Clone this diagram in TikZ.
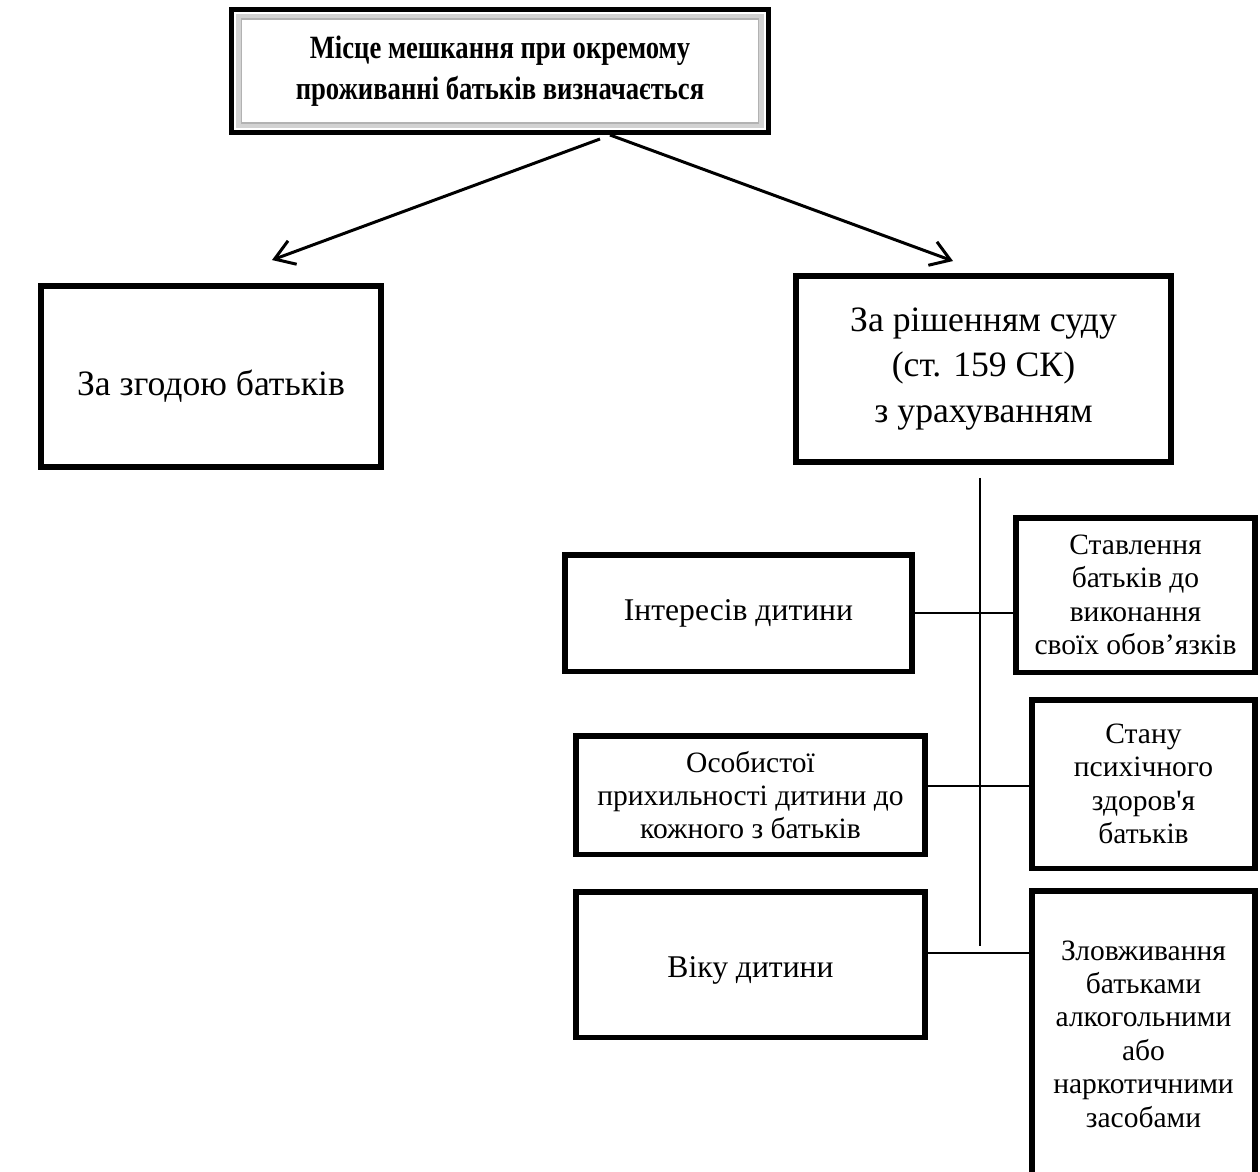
\documentclass[tikz,border=0pt]{standalone}
\usepackage{fontspec}
\setmainfont{Liberation Serif}
\newfontfamily\headfont[FakeStretch=0.82]{Liberation Serif}
\usepackage{tikz}
\usetikzlibrary{arrows.meta,calc}

\begin{document}
\begin{tikzpicture}[
  x=0.02cm,y=-0.02cm,
  box/.style={draw,line width=0.11cm,align=center,inner sep=0pt},
  bigtext/.style={font=\fontsize{20.3}{26}\selectfont},
  midtext/.style={font=\fontsize{18}{20}\selectfont},
  smalltext/.style={font=\fontsize{16.8}{19}\selectfont},
  link/.style={line width=1.1pt},
  pointer/.style={line width=1.7pt,-{Straight Barb[length=0.38cm,width=0.5cm,line width=1.7pt]}}
]
\useasboundingbox (0,0) rectangle (1260,1171);

% heading
\node[box,line width=0.1cm,minimum width=10.74cm,minimum height=2.46cm,
      font=\headfont\fontsize{18.5}{23}\selectfont\bfseries] (top) at (500,71)
  {Місце мешкання при окремому\\проживанні батьків визначається};
\draw[gray!35,line width=0.1cm] ([shift={(9,9)}]top.north west) rectangle ([shift={(-9,-9)}]top.south east);
\draw[gray!60,line width=0.6pt] ([shift={(12,12)}]top.north west) rectangle ([shift={(-12,-12)}]top.south east);

% two ways
\node[box,bigtext,minimum width=6.81cm,minimum height=3.63cm] (agree) at (211,376.5)
  {\raisebox{-0.37cm}[0pt][0pt]{За згодою батьків}};
\node[box,bigtext,minimum width=7.51cm,minimum height=3.73cm] (court) at (983.5,369)
  {За рішенням суду\\(ст. 159 СК)\\з урахуванням};

\draw[pointer] ([xshift=2cm,yshift=-0.08cm]top.south) -- ([xshift=1.22cm,yshift=0.46cm]agree.north);
\draw[pointer] ([xshift=2.2cm]top.south) -- ([xshift=-0.61cm,yshift=0.24cm]court.north);

% circumstances
\node[box,midtext,minimum width=6.95cm,minimum height=2.33cm] (interests) at (738.5,613) {Інтересів дитини};
\node[box,smalltext,minimum width=4.79cm,minimum height=3.09cm] (attitude) at (1135.5,595)
  {Ставлення\\батьків до\\виконання\\своїх обов’язків};
\node[box,smalltext,minimum width=6.99cm,minimum height=2.37cm] (affection) at (750.5,795)
  {Особистої\\прихильності дитини до\\кожного з батьків};
\node[box,smalltext,minimum width=4.47cm,minimum height=3.37cm] (health) at (1143.5,784)
  {Стану\\психічного\\здоров\textquotesingle я\\батьків};
\node[box,midtext,minimum width=6.99cm,minimum height=2.91cm] (age) at (750.5,964.5)
  {\raisebox{-0.25cm}[0pt][0pt]{Віку дитини}};
\node[box,smalltext,minimum width=4.47cm,minimum height=5.73cm] (abuse) at (1143.5,1034)
  {Зловживання\\батьками\\алкогольними\\або\\наркотичними\\засобами};

% trunk and branches
\coordinate (trunktop) at ($(court.south)+(-3.5,13)$);
\coordinate (trunkend) at (trunktop |- 0,946);
\draw[link] (trunktop) -- (trunkend);
\draw[link] (interests.east) -- (interests.east -| attitude.west);
\draw[link] ([yshift=0.18cm]affection.east) -- ([yshift=0.18cm]affection.east -| health.west);
\draw[link] ([yshift=0.23cm]age.east) -- ([yshift=0.23cm]age.east -| abuse.west);
\end{tikzpicture}
\end{document}
